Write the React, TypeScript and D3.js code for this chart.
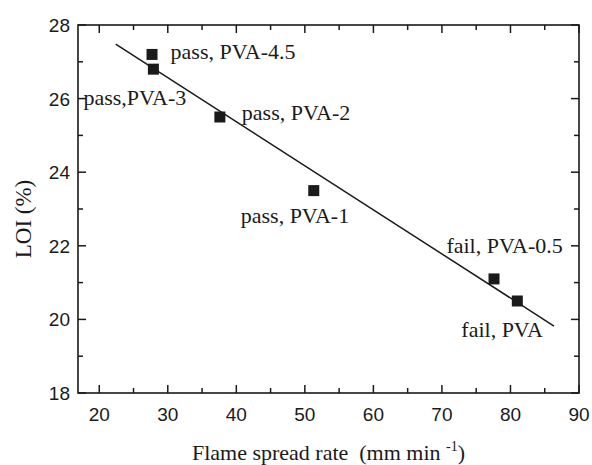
import React from "react";
import * as d3 from "d3";

const samples = ["PVA-4.5", "PVA-3", "PVA-2", "PVA-1", "PVA-0.5", "PVA"];
const spreadRate = [27.7, 27.9, 37.6, 51.3, 77.6, 81.0];
const loi = [27.2, 26.8, 25.5, 23.5, 21.1, 20.5];
const labels = ["pass, PVA-4.5", "pass,PVA-3", "pass, PVA-2", "pass, PVA-1", "fail, PVA-0.5", "fail, PVA"];
const fitX = [22.4, 86.35];
const fitY = [27.48, 19.82];
const xTicks = [20, 30, 40, 50, 60, 70, 80, 90];
const yTicks = [18, 20, 22, 24, 26, 28];

// label offsets in pixels relative to markers (layout only)
const labelOffsets: [number, number][] = [
  [18.6, 4.6],
  [-70, 36],
  [22, 3],
  [-73, 32],
  [-47.6, -26],
  [-56, 36],
];

const W = 592;
const H = 465;
const L = 78, R = 579, T = 25, B = 393;

export default function App() {
  const x = d3.scaleLinear().domain([16.9, 90]).range([L, R]);
  const y = d3.scaleLinear().domain([18, 28]).range([B, T]);
  const ink = "#1a1a1a";
  const serif = "'Liberation Serif', 'Times New Roman', serif";
  const sans = "'Liberation Sans', Arial, sans-serif";

  const xMinor = d3.range(25, 90, 10);
  const yMinor = d3.range(19, 28, 2);
  const line = d3
    .line<number>()
    .x((_, i) => x(fitX[i]))
    .y((d) => y(d));

  return (
    <svg
      width={W}
      height={H}
      style={{ position: "absolute", left: 0, top: 0, background: "#fff" }}
    >
      <rect x={0} y={0} width={W} height={H} fill="#fff" />
      {/* ticks */}
      <g stroke={ink} strokeWidth={1.5}>
        {xTicks.map((t) => (
          <g key={"xt" + t}>
            <line x1={x(t)} x2={x(t)} y1={B} y2={B - 8} />
            <line x1={x(t)} x2={x(t)} y1={T} y2={T + 8} />
          </g>
        ))}
        {xMinor.map((t) => (
          <g key={"xm" + t}>
            <line x1={x(t)} x2={x(t)} y1={B} y2={B - 5} />
            <line x1={x(t)} x2={x(t)} y1={T} y2={T + 5} />
          </g>
        ))}
        {yTicks.map((t) => (
          <g key={"yt" + t}>
            <line x1={L} x2={L + 8} y1={y(t)} y2={y(t)} />
            <line x1={R} x2={R - 8} y1={y(t)} y2={y(t)} />
          </g>
        ))}
        {yMinor.map((t) => (
          <g key={"ym" + t}>
            <line x1={L} x2={L + 5} y1={y(t)} y2={y(t)} />
            <line x1={R} x2={R - 5} y1={y(t)} y2={y(t)} />
          </g>
        ))}
      </g>
      <rect x={L} y={T} width={R - L} height={B - T} fill="none" stroke={ink} strokeWidth={1.6} />

      {/* tick labels */}
      <g fontFamily={sans} fontSize={19} fill={ink}>
        {xTicks.map((t) => (
          <text key={"xl" + t} x={x(t)} y={421} textAnchor="middle">
            {t}
          </text>
        ))}
        {yTicks.map((t) => (
          <text key={"yl" + t} x={70} y={y(t) + 7} textAnchor="end">
            {t}
          </text>
        ))}
      </g>

      {/* fit line */}
      <path d={line(fitY) || ""} fill="none" stroke={ink} strokeWidth={1.5} />

      {/* markers */}
      {samples.map((s, i) => (
        <rect
          key={s}
          x={x(spreadRate[i]) - 5.5}
          y={y(loi[i]) - 5.5}
          width={11}
          height={11}
          fill={ink}
        />
      ))}

      {/* labels */}
      <g fontFamily={serif} fontSize={22} fill={ink}>
        {samples.map((s, i) => (
          <text
            key={"lab" + s}
            x={x(spreadRate[i]) + labelOffsets[i][0]}
            y={y(loi[i]) + labelOffsets[i][1]}
          >
            {labels[i]}
          </text>
        ))}
      </g>

      {/* axis titles */}
      <text
        x={(L + R) / 2}
        y={460}
        textAnchor="middle"
        fontFamily={serif}
        fontSize={22}
        fill={ink}
      >
        Flame spread rate{"\u00a0\u00a0"}(mm min{" "}
        <tspan dy={-9} fontSize={14}>
          -1
        </tspan>
        <tspan dy={9}>)</tspan>
      </text>
      <text
        transform={`translate(31, ${(T + B) / 2 + 10}) rotate(-90)`}
        textAnchor="middle"
        fontFamily={serif}
        fontSize={23}
        fill={ink}
      >
        LOI (%)
      </text>
    </svg>
  );
}
